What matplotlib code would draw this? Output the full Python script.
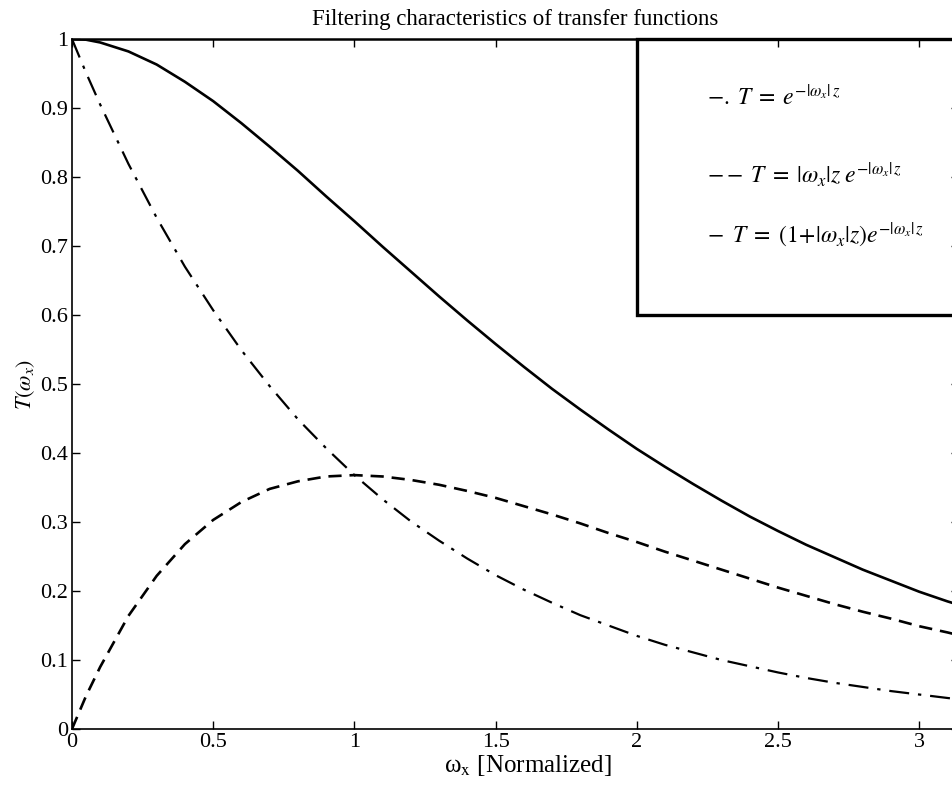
import numpy as np
import matplotlib
matplotlib.use("Agg")
import matplotlib.pyplot as plt
from matplotlib.patches import Rectangle

plt.rcParams['font.family'] = ['Liberation Serif', 'DejaVu Serif']
plt.rcParams['mathtext.fontset'] = 'stix'

# values (normalized frequency)
omega = [0.0, 0.05, 0.1, 0.2, 0.3, 0.4, 0.5, 0.6, 0.7, 0.8, 0.9, 1.0, 1.1, 1.2, 1.3, 1.4, 1.5,
         1.6, 1.7, 1.8, 1.9, 2.0, 2.1, 2.2, 2.3, 2.4, 2.5, 2.6, 2.7, 2.8, 2.9, 3.0, 3.1, 3.14]
t_exp = [1.000, 0.951, 0.905, 0.819, 0.741, 0.670, 0.607, 0.549, 0.497, 0.449, 0.407, 0.368,
         0.333, 0.301, 0.273, 0.247, 0.223, 0.202, 0.183, 0.165, 0.150, 0.135, 0.122,
         0.111, 0.100, 0.091, 0.082, 0.074, 0.067, 0.061, 0.055, 0.050, 0.045, 0.043]
t_lin_exp = [0.000, 0.048, 0.090, 0.164, 0.222, 0.268, 0.303, 0.329, 0.348, 0.359, 0.366, 0.368,
             0.366, 0.361, 0.354, 0.345, 0.335, 0.323, 0.311, 0.298, 0.284, 0.271, 0.257,
             0.244, 0.231, 0.218, 0.205, 0.193, 0.181, 0.170, 0.160, 0.149, 0.140, 0.136]
t_sum = [1.000, 0.999, 0.995, 0.982, 0.963, 0.938, 0.910, 0.878, 0.844, 0.809, 0.772, 0.736,
         0.699, 0.663, 0.627, 0.592, 0.558, 0.525, 0.493, 0.463, 0.434, 0.406, 0.380,
         0.355, 0.331, 0.308, 0.287, 0.267, 0.249, 0.231, 0.215, 0.199, 0.185, 0.180]

legend_labels = [r"$-.\;T\;=\;e^{-|\omega_x|\,z}$",
                 r"$--\;T\;=\;|\omega_x|z\;e^{-|\omega_x|\,z}$",
                 r"$-\;\;T\;=\;(1\!+\!|\omega_x|z)e^{-|\omega_x|\,z}$"]
legend_y = [0.916, 0.803, 0.716]

fig = plt.figure(figsize=(9.53, 7.85), dpi=100)
ax = fig.add_axes([0.0755, 0.0713, 0.931, 0.879])

ax.plot(omega, t_exp, color='black', lw=1.6, linestyle=(0, (9, 4, 1.5, 4)))
ax.plot(omega, t_lin_exp, color='black', lw=1.9, linestyle=(0, (5, 3)))
ax.plot(omega, t_sum, color='black', lw=1.9, linestyle='-')

# legend box (MATLAB style)
box = Rectangle((2.0, 0.6), 1.3, 0.4, facecolor='white', edgecolor='black',
                lw=2.4, zorder=1, clip_on=False)
ax.add_patch(box)
for lab, y in zip(legend_labels, legend_y):
    ax.text(2.25, y, lab, fontsize=17, va='center', ha='left', zorder=3)

ax.set_xlim(0, np.pi)
ax.set_ylim(0, 1)
ax.set_xticks([0, 0.5, 1, 1.5, 2, 2.5, 3])
ax.set_xticklabels(['0', '0.5', '1', '1.5', '2', '2.5', '3'])
ax.set_yticks(np.arange(0, 1.01, 0.1))
ax.set_yticklabels(['0', '0.1', '0.2', '0.3', '0.4', '0.5', '0.6', '0.7', '0.8', '0.9', '1'])
ax.tick_params(direction='in', length=6, width=1, labelsize=16, top=True, right=True, pad=3)
for s in ax.spines.values():
    s.set_linewidth(1.2)
ax.spines['top'].set_linewidth(1.8)

ax.set_title('Filtering characteristics of transfer functions', fontsize=16.5, pad=10)
ax.set_xlabel(r'ω$_{\rm x}$ [Normalized]', fontsize=18)
ax.xaxis.set_label_coords(0.514, -0.035, transform=ax.transAxes)
ax.xaxis.label.set_va('top')
ax.set_ylabel(r'$T(\omega_x)$', fontsize=16, labelpad=2)

fig.savefig('out.png', dpi=100)
